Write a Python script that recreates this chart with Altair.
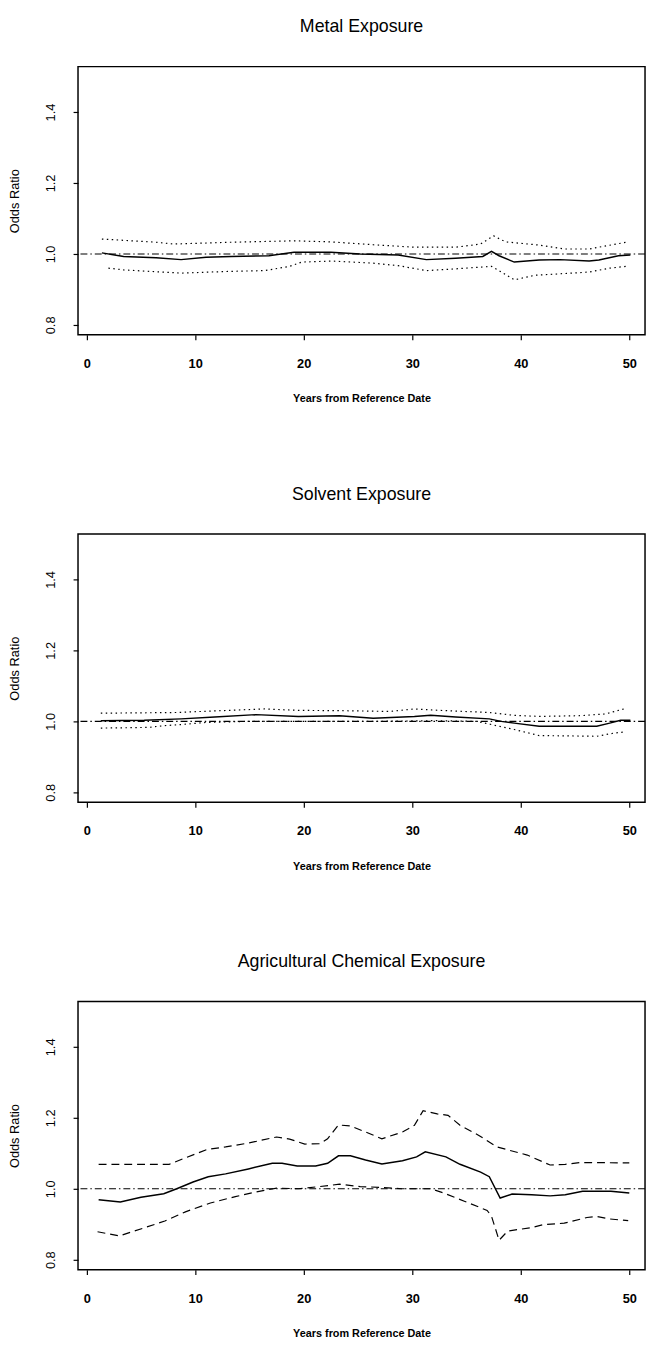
import altair as alt
import pandas as pd

titles = ["Metal Exposure", "Solvent Exposure", "Agricultural Chemical Exposure"]
x_ticks = [0, 10, 20, 30, 40, 50]
y_ticks = [0.8, 1.0, 1.2, 1.4]
x_title = "Years from Reference Date"
y_title = "Odds Ratio"

# ---- Metal exposure ----
metal_est_x = [1.4, 3.4, 6.4, 8.7, 11.0, 13.3, 16.8, 19.1, 22.5, 25.2, 28.7, 31.3, 34.0, 36.5, 37.3, 38.0, 39.4, 41.7, 43.6, 46.3, 47.2, 49.0, 50.1]
metal_est_y = [1.003, 0.993, 0.989, 0.984, 0.991, 0.993, 0.995, 1.005, 1.005, 1.000, 0.997, 0.984, 0.988, 0.993, 1.007, 0.995, 0.977, 0.983, 0.984, 0.980, 0.983, 0.995, 0.997]
metal_up_x = [1.4, 6.4, 8.0, 13.3, 19.1, 22.5, 26.4, 30.2, 34.0, 36.3, 37.5, 38.6, 41.7, 44.0, 46.3, 49.7]
metal_up_y = [1.042, 1.033, 1.028, 1.033, 1.037, 1.034, 1.026, 1.019, 1.019, 1.028, 1.051, 1.034, 1.025, 1.014, 1.014, 1.033]
metal_lo_x = [2.0, 3.4, 8.7, 13.3, 16.4, 18.7, 19.8, 22.5, 26.4, 28.7, 31.3, 34.0, 37.3, 38.0, 39.4, 41.3, 43.6, 46.3, 48.2, 49.7]
metal_lo_y = [0.960, 0.955, 0.946, 0.951, 0.953, 0.965, 0.977, 0.980, 0.974, 0.967, 0.953, 0.958, 0.965, 0.953, 0.927, 0.940, 0.944, 0.949, 0.960, 0.965]

# ---- Solvent exposure ----
solv_est_x = [1.3, 5.3, 8.7, 11.8, 15.6, 19.5, 23.3, 26.4, 30.2, 31.7, 34.0, 37.1, 38.2, 39.4, 41.7, 47.0, 48.2, 49.2, 50.1]
solv_est_y = [1.002, 1.003, 1.007, 1.012, 1.019, 1.014, 1.016, 1.009, 1.014, 1.017, 1.012, 1.007, 1.000, 0.995, 0.986, 0.986, 0.995, 1.003, 1.003]
solv_up_x = [1.3, 8.3, 10.6, 16.4, 19.5, 23.7, 27.9, 30.2, 32.5, 37.1, 39.4, 41.7, 45.5, 47.8, 49.5]
solv_up_y = [1.023, 1.025, 1.028, 1.035, 1.031, 1.030, 1.028, 1.035, 1.031, 1.025, 1.017, 1.014, 1.016, 1.021, 1.035]
solv_lo_x = [1.3, 5.7, 7.2, 8.7, 11.0, 14.9, 26.4, 32.1, 35.9, 37.3, 39.4, 41.7, 47.0, 48.6, 49.5]
solv_lo_y = [0.981, 0.983, 0.988, 0.991, 0.997, 1.000, 1.000, 1.002, 1.000, 0.991, 0.977, 0.960, 0.958, 0.967, 0.970]

# ---- Agricultural chemical exposure ----
agri_est_x = [1.1, 3.1, 5.0, 7.1, 8.3, 9.8, 11.2, 12.8, 14.9, 17.1, 18.0, 19.4, 21.1, 22.2, 23.2, 24.3, 25.7, 27.2, 29.1, 30.4, 31.2, 33.1, 34.4, 36.3, 37.1, 38.1, 39.2, 41.0, 42.7, 44.1, 45.7, 48.3, 50.0]
agri_est_y = [0.969, 0.963, 0.976, 0.986, 1.000, 1.019, 1.034, 1.042, 1.056, 1.072, 1.072, 1.064, 1.064, 1.072, 1.093, 1.093, 1.081, 1.070, 1.079, 1.090, 1.104, 1.090, 1.069, 1.047, 1.034, 0.974, 0.985, 0.983, 0.980, 0.983, 0.993, 0.993, 0.988]
agri_up_x = [1.1, 7.6, 9.0, 11.1, 12.8, 14.9, 17.5, 18.7, 20.1, 21.5, 22.2, 23.2, 24.3, 25.7, 27.2, 29.1, 30.2, 31.0, 32.3, 33.3, 34.4, 36.1, 37.8, 40.6, 42.7, 44.1, 45.5, 50.0]
agri_up_y = [1.069, 1.069, 1.086, 1.111, 1.118, 1.129, 1.146, 1.140, 1.126, 1.127, 1.141, 1.180, 1.177, 1.160, 1.141, 1.160, 1.179, 1.220, 1.211, 1.207, 1.179, 1.151, 1.118, 1.095, 1.067, 1.069, 1.074, 1.073]
agri_lo_x = [1.0, 3.0, 5.3, 7.2, 9.1, 11.4, 13.7, 15.6, 17.5, 19.5, 21.4, 23.3, 25.2, 27.1, 29.0, 31.7, 32.9, 34.8, 36.9, 37.3, 38.0, 38.8, 40.9, 42.1, 44.0, 46.1, 47.0, 48.2, 49.9]
agri_lo_y = [0.879, 0.867, 0.890, 0.909, 0.935, 0.960, 0.978, 0.991, 1.002, 1.000, 1.006, 1.013, 1.006, 1.004, 1.000, 1.000, 0.988, 0.965, 0.939, 0.923, 0.855, 0.881, 0.890, 0.899, 0.903, 0.919, 0.922, 0.915, 0.910]

FONT = "Liberation Sans"
X_DOMAIN = [-0.8, 51.45]
Y_DOMAIN = [0.772, 1.528]
W, H = 575, 272


def xenc():
    return alt.X(
        "x:Q",
        scale=alt.Scale(domain=X_DOMAIN, nice=False, zero=False),
        axis=alt.Axis(values=x_ticks, title=x_title, tickSize=5, labelPadding=18,
                      labelFontSize=13, labelFontWeight="bold", labelFlush=False,
                      titleFontSize=11, titleFontWeight="bold", titlePadding=23),
    )


def yenc():
    return alt.Y(
        "y:Q",
        scale=alt.Scale(domain=Y_DOMAIN, nice=False, zero=False),
        axis=alt.Axis(values=y_ticks, format=".1f", title=y_title, labelAngle=270,
                      tickSize=5, labelPadding=16, labelFontSize=13, labelFlush=False,
                      titleFontSize=13, titleFontWeight="normal", titlePadding=23),
    )


def line(xs, ys, dash, width):
    df = pd.DataFrame({"x": xs, "y": ys})
    kw = dict(color="black", strokeWidth=width, interpolate="linear")
    if dash:
        kw["strokeDash"] = dash
    return alt.Chart(df).mark_line(**kw).encode(x=xenc(), y=yenc())


def panel(title, ex, ey, ux, uy, lx, ly, ci_dash):
    ref = alt.Chart(pd.DataFrame({"y": [1.0]})).mark_rule(
        color="black", strokeWidth=1.1, strokeDash=[7, 3, 1.5, 3]
    ).encode(y=yenc())
    return alt.layer(
        ref,
        line(ux, uy, ci_dash, 1.2),
        line(lx, ly, ci_dash, 1.2),
        line(ex, ey, None, 1.5),
    ).properties(width=W, height=H, title=title)


dotted = [1.5, 3.5]
dashed = [8, 5]

chart = alt.vconcat(
    panel(titles[0], metal_est_x, metal_est_y, metal_up_x, metal_up_y, metal_lo_x, metal_lo_y, dotted),
    panel(titles[1], solv_est_x, solv_est_y, solv_up_x, solv_up_y, solv_lo_x, solv_lo_y, dotted),
    panel(titles[2], agri_est_x, agri_est_y, agri_up_x, agri_up_y, agri_lo_x, agri_lo_y, dashed),
    spacing=81,
).properties(padding=0).configure_view(
    stroke="black", strokeWidth=1.5
).configure_axis(
    grid=False, domain=False, tickColor="black", tickWidth=1.2,
    labelColor="black", titleColor="black", labelFont=FONT, titleFont=FONT,
).configure_title(
    font=FONT, fontSize=18, fontWeight="normal", color="black", offset=31, anchor="middle"
)

chart.save("out.html", embed_options={"renderer": "svg", "actions": False})
